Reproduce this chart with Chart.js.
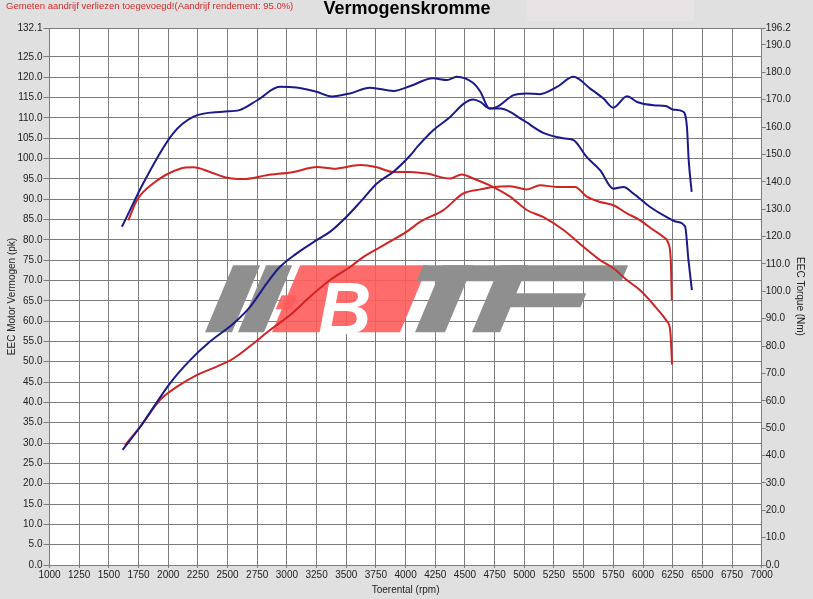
<!DOCTYPE html>
<html>
<head>
<meta charset="utf-8">
<script src="https://cdn.jsdelivr.net/npm/chart.js@4/dist/chart.umd.min.js"></script>
<style>
  html, body { margin: 0; padding: 0; background: #e0e0e0; }
  #wrap { width: 813px; height: 599px; position: relative; }
</style>
</head>
<body>
<div id="wrap"><canvas id="dynoChart" width="813" height="599"></canvas></div>
<script>
// --- data ---
// blue = tuned run, red = stock run
const blueTorqueRpm = [1610,1650,1790,2040,2210,2460,2600,2750,2940,3080,3250,3380,3530,3700,3900,4040,4230,4350,4430,4570,4630,4706,4800,4990,5160,5345,5415,5525,5640,5750,5835,5920,6060,6200,6285,6355,6383,6412];
const blueTorqueNm  = [123.6,127.1,139.5,157.6,163.7,165.6,166.2,169.8,174.7,174.5,172.9,171.2,172.3,174.4,173.2,175.0,177.8,177.2,178.4,176.1,172.9,166.8,166.8,162.5,157.9,155.8,155.2,149.1,144.2,137.5,138.1,135.7,130.8,127.1,125.4,123.6,111.4,100.4];

const bluePowerRpm = [1615,1765,2015,2185,2350,2550,2690,2830,2940,3080,3250,3365,3500,3630,3760,3900,4040,4100,4235,4375,4490,4570,4630,4710,4770,4910,5020,5130,5275,5415,5555,5665,5750,5865,5950,6090,6190,6260,6340,6370,6385,6410];
const bluePowerPk  = [28.3,34.0,44.7,50.4,54.9,59.4,63.5,69.3,73.3,76.6,79.9,82.0,85.6,89.7,93.9,96.8,100.8,102.9,107.0,110.2,113.5,114.5,113.9,112.3,112.7,115.6,116.0,115.8,117.6,120.1,117.2,114.8,112.5,115.3,113.9,113.1,112.9,112.0,111.5,107.8,99.6,91.8];

const redTorqueRpm = [1664,1735,1875,2100,2212,2352,2493,2633,2830,3055,3252,3392,3617,3757,3897,4038,4178,4375,4473,4571,4740,4880,5021,5161,5330,5498,5639,5751,5864,5976,6117,6200,6230,6245];
const redTorqueNm  = [125.9,133.2,139.5,144.8,145.3,143.6,141.5,141.0,142.4,143.6,145.4,144.8,146.1,145.3,143.6,143.6,143.0,141.2,142.7,141.2,138.1,134.6,129.7,127.1,122.4,116.3,111.4,108.4,104.1,100.4,93.7,89.1,85.4,73.2];

const redPowerRpm = [1636,1763,1931,2072,2240,2409,2549,2718,2858,3027,3195,3364,3532,3645,3841,4010,4122,4318,4487,4628,4740,4880,5021,5133,5274,5428,5526,5639,5751,5864,5976,6088,6172,6214,6234,6243];
const redPowerPk  = [29.5,34.0,40.6,43.8,46.7,48.8,50.8,54.5,57.8,61.5,66.0,70.1,73.3,75.8,79.1,82.0,84.4,87.3,91.4,92.4,93.0,93.2,92.4,93.4,93.0,93.0,90.6,89.3,88.5,86.5,84.8,82.4,80.7,79.1,75.0,65.2];

const leftTicks  = [0,5,10,15,20,25,30,35,40,45,50,55,60,65,70,75,80,85,90,95,100,105,110,115,120,125,132.1];
const rightTicks = [0,10,20,30,40,50,60,70,80,90,100,110,120,130,140,150,160,170,180,190,196.2];

const noteText  = 'Gemeten aandrijf verliezen toegevoegd!(Aandrijf rendement: 95.0%)';
const titleText = 'Vermogenskromme';

function pairs(xs, ys){ return xs.map((x, i) => ({ x: x, y: ys[i] })); }

const FONT = "'Liberation Sans', Arial, sans-serif";
const BLUE = '#1a1a8a';
const RED  = '#cf2424';
const GRID = '#7c7c7c';

// page decorations: grey sheet, white plot, header texts, watermark
const sheetPlugin = {
  id: 'sheet',
  beforeDraw(chart){
    const c = chart.ctx, a = chart.chartArea;
    c.save();
    c.fillStyle = '#e0e0e0';
    c.fillRect(0, 0, chart.width, chart.height);
    c.fillStyle = '#e8e4e5';
    c.fillRect(527, 0, 167, 21);
    c.fillStyle = '#ffffff';
    c.fillRect(a.left, a.top, a.right - a.left, a.bottom - a.top);
    c.textBaseline = 'middle';
    c.fillStyle = '#d42a2a';
    c.font = '9.5px ' + FONT;
    c.textAlign = 'left';
    c.fillText(noteText, 6, 6);
    c.fillStyle = '#000';
    c.font = 'bold 18px ' + FONT;
    c.textAlign = 'center';
    c.fillText(titleText, 407, 9);
    c.restore();
  },
  beforeDatasetsDraw(chart){
    // BTF watermark, drawn skewed under the curves
    const c = chart.ctx, a = chart.chartArea;
    const ox = a.left - 49.5, oy = a.top - 27.7;
    const top = 265 + oy, bot = 332 + oy, sk = 0.42;
    function slab(x0, x1, y0, y1, col){
      // parallelogram, x given at the bottom baseline
      c.fillStyle = col;
      c.beginPath();
      c.moveTo(ox + x0 + (bot - y1) * sk, y1);
      c.lineTo(ox + x1 + (bot - y1) * sk, y1);
      c.lineTo(ox + x1 + (bot - y0) * sk, y0);
      c.lineTo(ox + x0 + (bot - y0) * sk, y0);
      c.closePath();
      c.fill();
    }
    c.save();
    const g = '#8f8f8f';
    slab(205, 232, top, bot, g);
    slab(238, 264, top, bot, g);
    slab(272, 400, top, bot, 'rgba(255,92,92,0.9)');
    slab(266, 282, top + 30, top + 44, 'rgba(255,92,92,0.9)');
    // white B inside the red block
    c.fillStyle = '#fff';
    c.font = 'italic 900 74px ' + FONT;
    c.textAlign = 'left';
    c.textBaseline = 'alphabetic';
    c.fillText('B', ox + 318, bot + 2);
    // T
    slab(395, 498, top, top + 16, g);
    slab(415, 445, top, bot, g);
    // F
    slab(480, 600, top, top + 16, g);
    slab(472, 500, top, bot, g);
    slab(478, 570, top + 28, top + 42, g);
    c.restore();
  }
};

const ctx = document.getElementById('dynoChart').getContext('2d');
const dynoChart = new Chart(ctx, {
  type: 'line',
  data: {
    datasets: [
      { label: 'Koppel tuned', data: pairs(blueTorqueRpm, blueTorqueNm), yAxisID: 'yR', borderColor: BLUE, borderWidth: 2 },
      { label: 'Vermogen tuned', data: pairs(bluePowerRpm, bluePowerPk), yAxisID: 'yL', borderColor: BLUE, borderWidth: 2 },
      { label: 'Koppel stock', data: pairs(redTorqueRpm, redTorqueNm), yAxisID: 'yR', borderColor: RED, borderWidth: 2 },
      { label: 'Vermogen stock', data: pairs(redPowerRpm, redPowerPk), yAxisID: 'yL', borderColor: RED, borderWidth: 2 }
    ]
  },
  options: {
    responsive: false,
    animation: false,
    parsing: true,
    layout: { padding: { top: 28, left: 0, right: 0, bottom: 0 } },
    elements: {
      point: { radius: 0 },
      line: { cubicInterpolationMode: 'monotone', fill: false }
    },
    plugins: {
      legend: { display: false },
      tooltip: { enabled: false }
    },
    scales: {
      x: {
        type: 'linear',
        min: 1000, max: 7000,
        grid: { color: GRID, lineWidth: 1, tickLength: 3 },
        border: { color: GRID },
        ticks: { stepSize: 250, autoSkip: false, maxRotation: 0, color: '#222', padding: 1,
                 font: { family: FONT, size: 10 }, callback: v => String(v) },
        title: { display: true, text: 'Toerental (rpm)', color: '#222', padding: { top: 0, bottom: 3 },
                 font: { family: FONT, size: 10 } },
        afterFit(s){ s.height = 34; }
      },
      yL: {
        type: 'linear', position: 'left',
        min: 0, max: 132.1,
        afterBuildTicks(s){ s.ticks = leftTicks.map(v => ({ value: v })); },
        grid: { color: GRID, lineWidth: 1, tickLength: 6 },
        border: { color: GRID },
        ticks: { color: '#222', padding: 1, font: { family: FONT, size: 10 }, callback: v => Number(v).toFixed(1) },
        title: { display: true, text: 'EEC Motor Vermogen (pk)', color: '#222', padding: 6,
                 font: { family: FONT, size: 10 } },
        afterFit(s){ s.width = 49.5; }
      },
      yR: {
        type: 'linear', position: 'right',
        min: 0, max: 196.2,
        afterBuildTicks(s){ s.ticks = rightTicks.map(v => ({ value: v })); },
        grid: { drawOnChartArea: false, color: GRID, tickLength: 4 },
        border: { color: GRID },
        ticks: { color: '#222', padding: 0, font: { family: FONT, size: 10 }, callback: v => Number(v).toFixed(1) },
        title: { display: true, text: 'EEC Torque (Nm)', color: '#222', padding: 7,
                 font: { family: FONT, size: 10 } },
        afterFit(s){ s.width = 51.3; }
      }
    }
  },
  plugins: [sheetPlugin]
});
</script>
</body>
</html>
